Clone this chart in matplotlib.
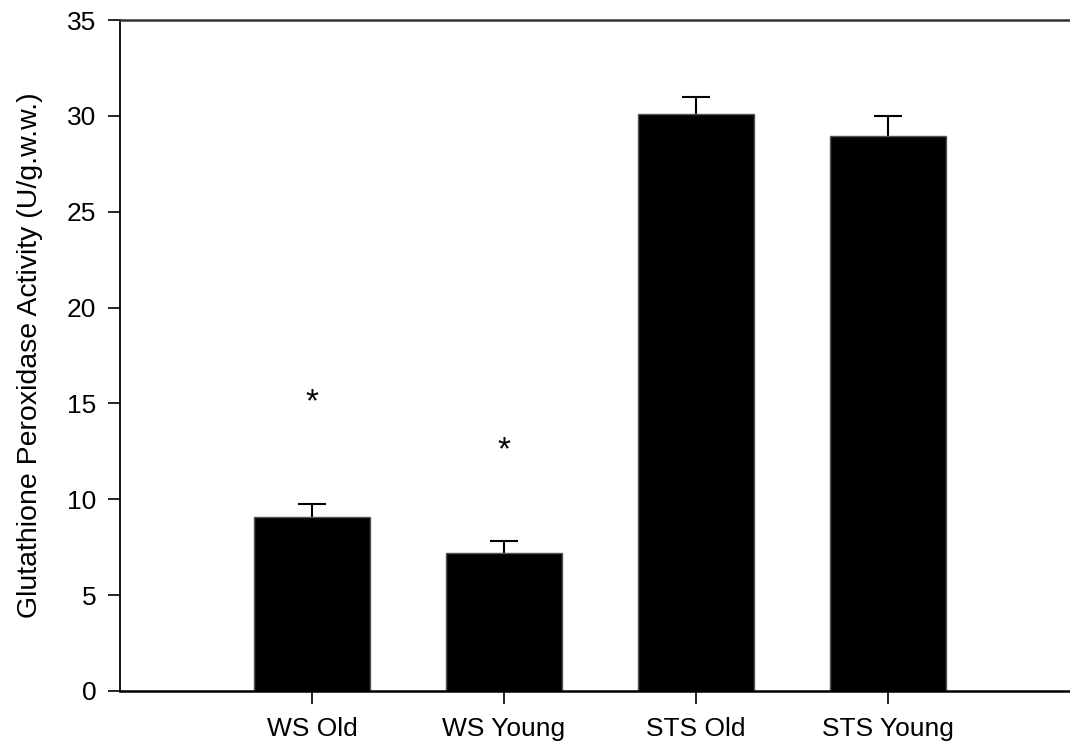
import matplotlib
matplotlib.use("Agg")
import matplotlib.pyplot as plt
import numpy as np

plt.rcParams['font.family'] = ['Liberation Sans', 'DejaVu Sans']

categories = ["WS Old", "WS Young", "STS Old", "STS Young"]
values = [9.08, 7.22, 30.1, 28.95]
errors = [0.65, 0.58, 0.9, 1.05]
star_groups = [0, 1]
star_values = [15.3, 12.8]

fig = plt.figure(figsize=(10.70, 7.44), dpi=100)
ax = fig.add_axes([120/1070, 1 - 691/744, 960/1070, 671/744])

x = np.arange(len(categories))
ax.bar(x, values, width=0.6, color='black', edgecolor='#555555', linewidth=1.0, zorder=2)
eb = ax.errorbar(x, values, yerr=[np.zeros(len(errors)), errors], fmt='none',
                 ecolor='black', elinewidth=1.5, capsize=10, capthick=1.5, zorder=1)
eb[1][0].set_visible(False)

for g, v in zip(star_groups, star_values):
    ax.annotate("*", xy=(g, v), xytext=(0, -4), textcoords='offset points',
                ha='center', va='center', fontsize=24)

ax.set_xlim(-1.0, -1.0 + 960/192)
ax.set_ylim(0, 35)
ax.set_yticks(np.arange(0, 36, 5))
ax.set_xticks(x)
ax.set_xticklabels(categories)
ax.tick_params(axis='both', labelsize=19, direction='out', length=9, width=1.2)
ax.tick_params(axis='x', pad=10)
ax.tick_params(axis='y', pad=8)
ax.set_ylabel("Glutathione Peroxidase Activity (U/g.w.w.)", fontsize=20.5, labelpad=17)

ax.spines['right'].set_visible(False)
ax.spines['top'].set_color('#333333')
for s in ['left', 'bottom', 'top']:
    ax.spines[s].set_linewidth(1.8)
ax.spines['left'].set_linewidth(1.3)

fig.savefig("out.png", dpi=100)
